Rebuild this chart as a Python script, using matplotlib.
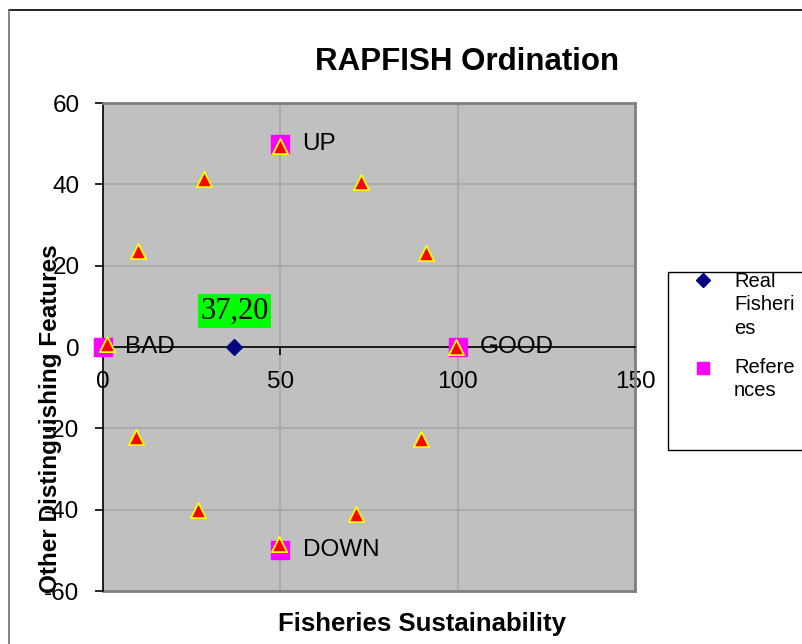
import numpy as np
import matplotlib.pyplot as plt
from matplotlib.patches import Rectangle
from matplotlib.lines import Line2D

plt.rcParams['font.family'] = ['Liberation Sans', 'DejaVu Sans']

# data
real_x = [37]
real_y = [0]
real_label = '37,20'

ref_x = [0, 100, 50, 50]
ref_y = [0, 0, 50, -50]
ref_names = ['BAD', 'GOOD', 'UP', 'DOWN']

anchor_x = [1, 10, 28.5, 50, 72.7, 91, 99.6, 89.8, 71.2, 49.5, 26.8, 9.4]
anchor_y = [0.8, 23.6, 41.3, 49.4, 40.6, 23.1, 0, -22.6, -41.1, -48.4, -40.1, -22.1]

x_ticks = [0, 50, 100, 150]
y_ticks = [-60, -40, -20, 0, 20, 40, 60]

legend_labels = ['Real\nFisheri\nes', 'Refere\nnces']

W, H = 803, 644
fig = plt.figure(figsize=(W / 100, H / 100), dpi=100)

# outer chart border (runs off the right and bottom of the picture)
fig.add_artist(Line2D([9 / W, 1.0], [1 - 10 / H] * 2, transform=fig.transFigure, color='black', lw=1.2))
fig.add_artist(Line2D([9 / W] * 2, [0, 1 - 10 / H], transform=fig.transFigure, color='#707070', lw=1.2))

ax = fig.add_axes([103 / W, 1 - 591 / H, 532 / W, 488 / H])
ax.set_facecolor('#C0C0C0')
ax.set_xlim(0, 150)
ax.set_ylim(-60, 60)

for s in ['top', 'right']:
    ax.spines[s].set_color('#808080')
    ax.spines[s].set_linewidth(2)
ax.spines['left'].set_color('black')
ax.spines['left'].set_linewidth(1.2)
ax.spines['bottom'].set_position(('data', 0))
ax.spines['bottom'].set_color('black')
ax.spines['bottom'].set_linewidth(1.2)
ax.plot([0, 150], [-60, -60], color='#808080', lw=2, clip_on=False, zorder=1)

ax.set_xticks(x_ticks)
ax.set_yticks(y_ticks)
ax.set_yticklabels([str(v) for v in y_ticks])
ax.tick_params(axis='both', direction='out', length=6, width=1.2, labelsize=17.5, pad=11)
ax.grid(True, color='#A6A6A6', lw=1.2)
ax.set_axisbelow(True)

ax.scatter(ref_x, ref_y, marker='s', s=150, color='#FF00FF', zorder=3, clip_on=False)
ax.scatter(anchor_x, anchor_y, marker='^', s=120, color='#FF0000', edgecolors='#FFFF00',
           linewidths=1.3, zorder=4, clip_on=False)
ax.scatter(real_x, real_y, marker='D', s=65, color='#000080', zorder=5)

for x, y, name in zip(ref_x, ref_y, ref_names):
    ax.annotate(name, (x, y), xytext=(16, 0), textcoords='offset points',
                ha='left', va='center', fontsize=17.5, zorder=6)

ax.annotate(real_label, (real_x[0], real_y[0]), xytext=(0, 26), textcoords='offset points',
            ha='center', va='center', fontsize=22, family='Liberation Serif',
            bbox=dict(boxstyle='square,pad=0.08', fc='#00FF00', ec='none'), zorder=6)

fig.text(467 / W, 1 - 62 / H, 'RAPFISH Ordination', ha='center', va='center',
         fontsize=22.5, fontweight='bold')
fig.text(422 / W, 1 - 624 / H, 'Fisheries Sustainability', ha='center', va='center',
         fontsize=18.5, fontweight='bold')
fig.text(51 / W, 1 - 419 / H, 'Other Distinguishing Features', ha='center', va='center',
         rotation=90, fontsize=17.5, fontweight='bold')

# legend box, markers and wrapped labels
fig.patches.append(Rectangle((668 / W, 1 - 450 / H), 200 / W, 178 / H, transform=fig.transFigure,
                             fill=False, edgecolor='black', lw=1))
fig.add_artist(Line2D([703 / W], [1 - 280 / H], transform=fig.transFigure, marker='D',
                      ls='none', color='#000080', markersize=7))
fig.add_artist(Line2D([703 / W], [1 - 368 / H], transform=fig.transFigure, marker='s',
                      ls='none', color='#FF00FF', markersize=9))
fig.text(734 / W, 1 - 272 / H, legend_labels[0], ha='left', va='top', fontsize=14.5,
         linespacing=1.3)
fig.text(734 / W, 1 - 358 / H, legend_labels[1], ha='left', va='top', fontsize=14.5,
         linespacing=1.3)

fig.savefig('out.png', dpi=100)
